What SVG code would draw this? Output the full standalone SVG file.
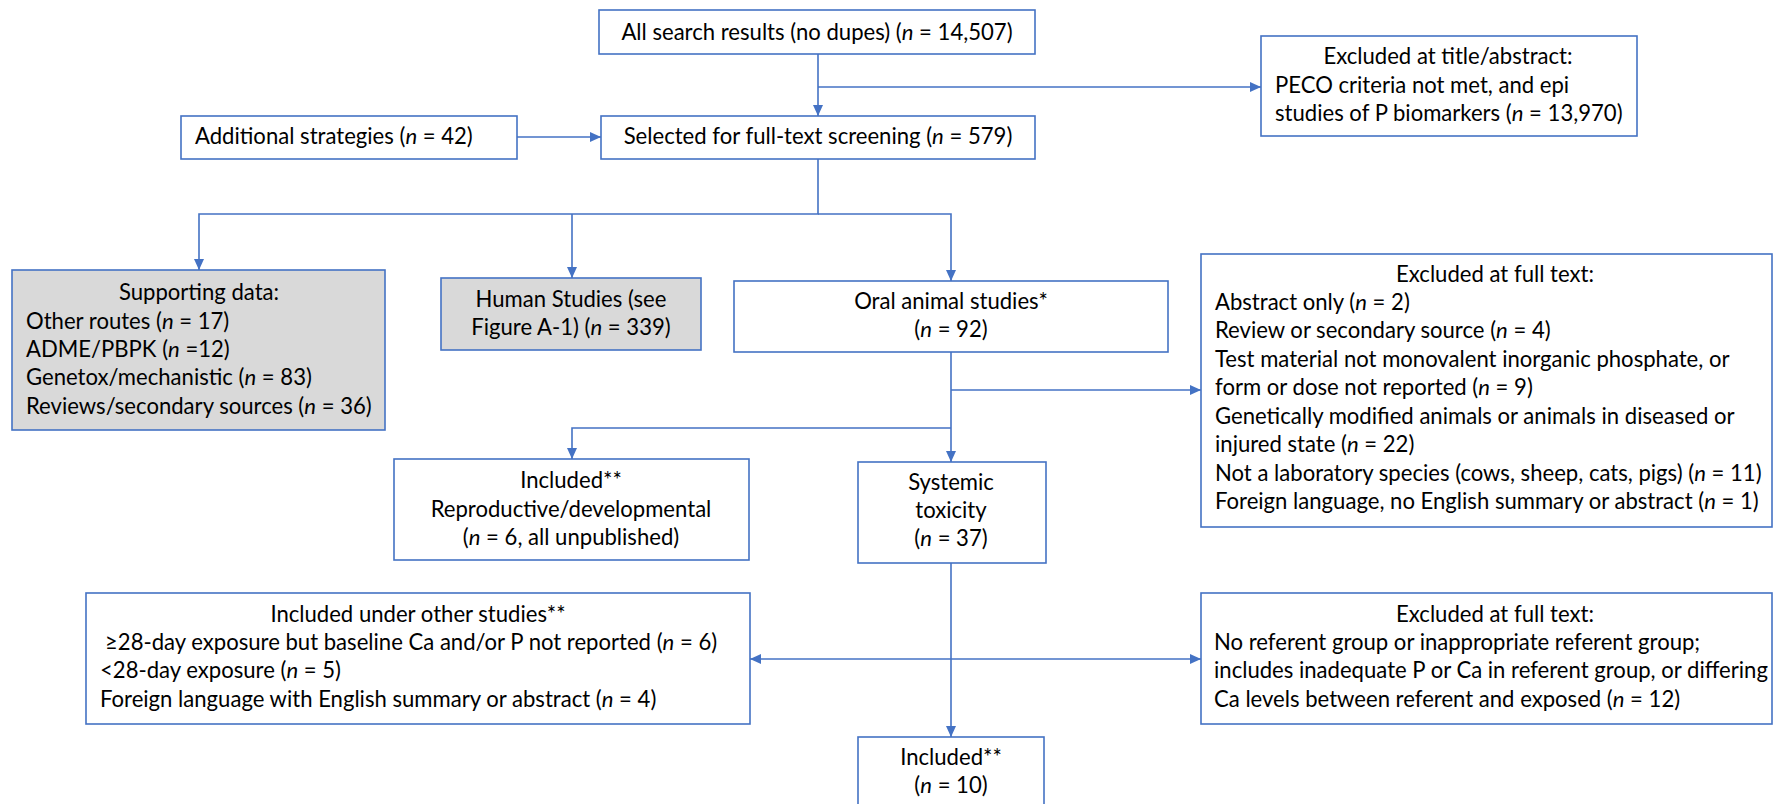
<svg xmlns="http://www.w3.org/2000/svg" width="1775" height="804" viewBox="0 0 1775 804">
<style>
.box{fill:#ffffff;stroke:#4472c4;stroke-width:1.6}
.grey{fill:#d9d9d9;stroke:#4472c4;stroke-width:1.6}
.t{font-family:Lato,"Liberation Sans",sans-serif;font-size:22.1px;fill:#000}
.c{text-anchor:middle}
.conn{fill:none;stroke:#4472c4;stroke-width:1.6}
</style>
<defs>
<marker id="ah" markerUnits="userSpaceOnUse" markerWidth="11" markerHeight="10" refX="11" refY="5" orient="auto">
<path d="M0,0 L11,5 L0,10 z" fill="#4472c4"/>
</marker>
</defs>
<rect width="1775" height="804" fill="#ffffff"/>
<g id="connectors">
<path class="conn" d="M818,54 V116" marker-end="url(#ah)"/>
<path class="conn" d="M818,87 H1261" marker-end="url(#ah)"/>
<path class="conn" d="M517,137 H601" marker-end="url(#ah)"/>
<path class="conn" d="M818,159 V214 H199 V270" marker-end="url(#ah)"/>
<path class="conn" d="M572,214 V278" marker-end="url(#ah)"/>
<path class="conn" d="M818,214 H951 V281" marker-end="url(#ah)"/>
<path class="conn" d="M951,352 V462" marker-end="url(#ah)"/>
<path class="conn" d="M951,390 H1201" marker-end="url(#ah)"/>
<path class="conn" d="M951,428 H572 V459" marker-end="url(#ah)"/>
<path class="conn" d="M951,563 V737" marker-end="url(#ah)"/>
<path class="conn" d="M951,659 H750" marker-end="url(#ah)"/>
<path class="conn" d="M951,659 H1201" marker-end="url(#ah)"/>
</g>
<g id="all-search">
<rect class="box" x="599" y="10" width="436" height="44"/>
<text class="t c" x="817" y="40">All search results (no dupes) (<tspan font-style="italic">n</tspan> = 14,507)</text>
</g>
<g id="excluded-title">
<rect class="box" x="1261" y="36" width="376" height="100"/>
<text class="t c" x="1448" y="64">Excluded at title/abstract:</text>
<text class="t" x="1275" y="93">PECO criteria not met, and epi</text>
<text class="t" x="1275" y="121">studies of P biomarkers (<tspan font-style="italic">n</tspan> = 13,970)</text>
</g>
<g id="additional">
<rect class="box" x="181" y="116" width="336" height="43"/>
<text class="t" x="195" y="144">Additional strategies (<tspan font-style="italic">n</tspan> = 42)</text>
</g>
<g id="selected">
<rect class="box" x="601" y="116" width="434" height="43"/>
<text class="t c" x="818" y="144">Selected for full-text screening (<tspan font-style="italic">n</tspan> = 579)</text>
</g>
<g id="supporting">
<rect class="grey" x="12" y="270" width="373" height="160"/>
<text class="t c" x="199" y="300">Supporting data:</text>
<text class="t" x="26" y="329">Other routes (<tspan font-style="italic">n</tspan> = 17)</text>
<text class="t" x="26" y="357">ADME/PBPK (<tspan font-style="italic">n</tspan> =12)</text>
<text class="t" x="26" y="385">Genetox/mechanistic (<tspan font-style="italic">n</tspan> = 83)</text>
<text class="t" x="26" y="414">Reviews/secondary sources (<tspan font-style="italic">n</tspan> = 36)</text>
</g>
<g id="human">
<rect class="grey" x="441" y="278" width="260" height="72"/>
<text class="t c" x="571" y="307">Human Studies (see</text>
<text class="t c" x="571" y="335">Figure A-1) (<tspan font-style="italic">n</tspan> = 339)</text>
</g>
<g id="oral">
<rect class="box" x="734" y="281" width="434" height="71"/>
<text class="t c" x="951" y="309">Oral animal studies*</text>
<text class="t c" x="951" y="337">(<tspan font-style="italic">n</tspan> = 92)</text>
</g>
<g id="excluded-full-1">
<rect class="box" x="1201" y="254" width="571" height="273"/>
<text class="t c" x="1495" y="282">Excluded at full text:</text>
<text class="t" x="1215" y="310">Abstract only (<tspan font-style="italic">n</tspan> = 2)</text>
<text class="t" x="1215" y="338">Review or secondary source (<tspan font-style="italic">n</tspan> = 4)</text>
<text class="t" x="1215" y="367">Test material not monovalent inorganic phosphate, or</text>
<text class="t" x="1215" y="395">form or dose not reported (<tspan font-style="italic">n</tspan> = 9)</text>
<text class="t" x="1215" y="424">Genetically modified animals or animals in diseased or</text>
<text class="t" x="1215" y="452">injured state (<tspan font-style="italic">n</tspan> = 22)</text>
<text class="t" x="1215" y="481">Not a laboratory species (cows, sheep, cats, pigs) (<tspan font-style="italic">n</tspan> = 11)</text>
<text class="t" x="1215" y="509">Foreign language, no English summary or abstract (<tspan font-style="italic">n</tspan> = 1)</text>
</g>
<g id="repro">
<rect class="box" x="394" y="459" width="355" height="101"/>
<text class="t c" x="571" y="488">Included**</text>
<text class="t c" x="571" y="517">Reproductive/developmental</text>
<text class="t c" x="571" y="545">(<tspan font-style="italic">n</tspan> = 6, all unpublished)</text>
</g>
<g id="systemic">
<rect class="box" x="858" y="462" width="188" height="101"/>
<text class="t c" x="951" y="490">Systemic</text>
<text class="t c" x="951" y="518">toxicity</text>
<text class="t c" x="951" y="546">(<tspan font-style="italic">n</tspan> = 37)</text>
</g>
<g id="other-studies">
<rect class="box" x="86" y="593" width="664" height="131"/>
<text class="t c" x="418" y="622">Included under other studies**</text>
<text class="t" x="105" y="650">≥28-day exposure but baseline Ca and/or P not reported (<tspan font-style="italic">n</tspan> = 6)</text>
<text class="t" x="100" y="678">&lt;28-day exposure (<tspan font-style="italic">n</tspan> = 5)</text>
<text class="t" x="100" y="707">Foreign language with English summary or abstract (<tspan font-style="italic">n</tspan> = 4)</text>
</g>
<g id="excluded-full-2">
<rect class="box" x="1201" y="593" width="571" height="131"/>
<text class="t c" x="1495" y="622">Excluded at full text:</text>
<text class="t" x="1214" y="650">No referent group or inappropriate referent group;</text>
<text class="t" x="1214" y="678">includes inadequate P or Ca in referent group, or differing</text>
<text class="t" x="1214" y="707">Ca levels between referent and exposed (<tspan font-style="italic">n</tspan> = 12)</text>
</g>
<g id="included-final">
<rect class="box" x="858" y="737" width="186" height="80"/>
<text class="t c" x="951" y="765">Included**</text>
<text class="t c" x="951" y="793">(<tspan font-style="italic">n</tspan> = 10)</text>
</g>
</svg>
